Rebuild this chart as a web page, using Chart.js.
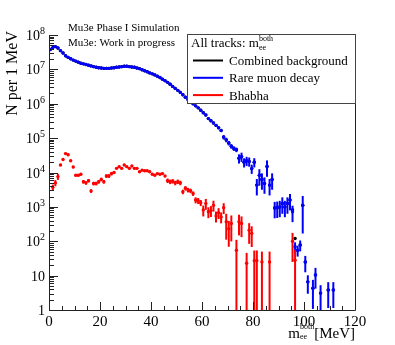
<!DOCTYPE html>
<html>
<head>
<meta charset="utf-8">
<script src="https://cdn.jsdelivr.net/npm/chart.js@4.4.1/dist/chart.umd.min.js"></script>
<style>
  html, body { margin: 0; padding: 0; background: #fff; }
  #wrap { width: 395px; height: 345px; }
</style>
</head>
<body>
<div id="wrap"><canvas id="massChart" width="395" height="345"></canvas></div>
<script>
// ==============================
// DATA (1 MeV bins, m_ee^both)
// ==============================
const binCentres = [
  0.5, 1.5, 2.5, 3.5, 4.5, 5.5, 6.5, 7.5, 8.5, 9.5,
  10.5, 11.5, 12.5, 13.5, 14.5, 15.5, 16.5, 17.5, 18.5, 19.5,
  20.5, 21.5, 22.5, 23.5, 24.5, 25.5, 26.5, 27.5, 28.5, 29.5,
  30.5, 31.5, 32.5, 33.5, 34.5, 35.5, 36.5, 37.5, 38.5, 39.5,
  40.5, 41.5, 42.5, 43.5, 44.5, 45.5, 46.5, 47.5, 48.5, 49.5,
  50.5, 51.5, 52.5, 53.5, 54.5, 55.5, 56.5, 57.5, 58.5, 59.5,
  60.5, 61.5, 62.5, 63.5, 64.5, 65.5, 66.5, 67.5, 68.5, 69.5,
  70.5, 71.5, 72.5, 73.5, 74.5, 75.5, 76.5, 77.5, 78.5, 79.5,
  80.5, 81.5, 82.5, 83.5, 84.5, 85.5, 86.5, 87.5, 88.5, 89.5,
  90.5, 91.5, 92.5, 93.5, 94.5, 95.5, 96.5, 97.5, 98.5, 99.5,
  100.5, 101.5, 102.5, 103.5, 104.5, 105.5, 106.5, 107.5, 108.5, 109.5,
  110.5, 111.5
];

// Rare muon decay
const rareCounts = [
  3.8e7, 4.3e7, 4.6e7, 4.2e7, 3.5e7, 3.0e7, 2.5e7, 2.24e7, 2.04e7, 1.86e7,
  1.74e7, 1.62e7, 1.51e7, 1.45e7, 1.38e7, 1.32e7, 1.26e7, 1.2e7, 1.15e7, 1.12e7,
  1.1e7, 1.07e7, 1.07e7, 1.07e7, 1.1e7, 1.12e7, 1.15e7, 1.17e7, 1.2e7, 1.23e7,
  1.23e7, 1.2e7, 1.17e7, 1.15e7, 1.1e7, 1.05e7, 9.8e6, 9.1e6, 8.5e6, 7.9e6,
  7.4e6, 6.9e6, 6.3e6, 5.8e6, 5.2e6, 4.7e6, 4.2e6, 3.7e6, 3.2e6, 2.8e6,
  2.45e6, 2.14e6, 1.82e6, 1.55e6, 1.32e6, 1.15e6, 1.0e6, 8.7e5, 7.6e5, 6.5e5,
  5.5e5, 4.7e5, 3.7e5, 3.2e5, 2.75e5, 2.35e5, 2.0e5, 1.66e5, 1.07e5, 8.9e4,
  7.2e4, 5.8e4, 5.0e4, 4.6e4, 2.6e4, 2.9e4, 2.0e4, 2.2e4, 2.1e4, 1.3e4,
  2.0e4, 4.3e3, 8.3e3, 6.3e3, 4.8e3, 1.5e4, 4.3e3, 6.3e3, 930, 950,
  1000, 1260, 1000, 1260, 1580, 720, 69, 55, 78, 1120,
  25, 6.6, null, 4.3, 10.5, null, 3.1, null, null, 3.8,
  null, 3.8
];
const rareRelErr = [
  0, 0, 0, 0, 0, 0, 0, 0, 0, 0,
  0, 0, 0, 0, 0, 0, 0, 0, 0, 0,
  0, 0, 0, 0, 0, 0, 0, 0, 0, 0,
  0, 0, 0, 0, 0, 0, 0, 0, 0, 0,
  0, 0, 0, 0, 0, 0, 0, 0, 0, 0,
  0, 0, 0, 0, 0, 0, 0, 0, 0, 0,
  0, 0, 0.05, 0.05, 0.05, 0.05, 0.05, 0.05, 0.15, 0.15,
  0.15, 0.15, 0.15, 0.15, 0.3, 0.3, 0.3, 0.3, 0.3, 0.3,
  0.3, 0.5, 0.5, 0.5, 0.5, 0.5, 0.5, 0.5, 0.5, 0.5,
  0.5, 0.5, 0.5, 0.5, 0.5, 0.5, 0.35, 0.35, 0.35, 0.85,
  0.5, 0.55, 0, 0.75, 0.6, 0, 0.7, 0, 0, 0.7,
  0, 0.7
];

// Bhabha
const bhabhaCounts = [
  null, 3700, 5000, 7600, 16600, 24000, 35500, 33000, 21900, 14500,
  8300, 8300, 8900, 5400, 5000, 5800, 2900, 4800, 4800, 5400,
  6300, 5400, 7900, 7900, 9300, 10000, 13200, 14800, 13200, 16600,
  14800, 13200, 15500, 13200, 13200, 10500, 11700, 11200, 11200, 10500,
  8900, 8300, 9300, 8900, 9300, 7900, 5800, 5400, 5600, 5000,
  5400, 5000, 2750, 3500, 3100, 2950, 2450, 1580, 1510, 1320,
  810, 1260, 720, 780, 1120, 540, 680, 510, 950, 370,
  230, 330, null, 55, 370, 330, null, 23, 210, 170,
  27, 27, null, 25, null, null, 25, null, null, null,
  null, null, null, null, null, 100, 28, null, null, null,
  null, null, null, null, null, null, null, null, null, null,
  null, null
];
const bhabhaRelErr = [
  0, 0.2, 0.2, 0.2, 0.08, 0.08, 0.08, 0.08, 0.08, 0.08,
  0.08, 0.08, 0.08, 0.12, 0.12, 0.12, 0.12, 0.12, 0.12, 0.12,
  0.12, 0.12, 0.12, 0.12, 0.12, 0.07, 0.07, 0.07, 0.07, 0.07,
  0.07, 0.07, 0.07, 0.07, 0.07, 0.07, 0.07, 0.07, 0.07, 0.07,
  0.07, 0.07, 0.07, 0.07, 0.07, 0.07, 0.15, 0.15, 0.15, 0.15,
  0.15, 0.15, 0.15, 0.15, 0.15, 0.15, 0.15, 0.2, 0.2, 0.2,
  0.35, 0.35, 0.35, 0.35, 0.35, 0.35, 0.35, 0.35, 0.35, 0.7,
  0.7, 0.7, 0, 1, 0.6, 0.6, 0, 1, 0.6, 0.6,
  1, 1, 0, 1, 0, 0, 1, 0, 0, 0,
  0, 0, 0, 0, 0, 0.75, 1, 0, 0, 0,
  0, 0, 0, 0, 0, 0, 0, 0, 0, 0,
  0, 0
];

// Combined background (almost everywhere hidden under the blue points)
const combinedCounts = [
  3.8e7, 4.3e7, 4.6e7, 4.2e7, 3.5e7, 3.0e7, 2.5e7, 2.24e7, 2.04e7, 1.86e7,
  1.74e7, 1.62e7, 1.51e7, 1.45e7, 1.38e7, 1.32e7, 1.26e7, 1.2e7, 1.15e7, 1.12e7,
  1.1e7, 1.07e7, 1.07e7, 1.07e7, 1.1e7, 1.12e7, 1.15e7, 1.17e7, 1.2e7, 1.23e7,
  1.23e7, 1.2e7, 1.17e7, 1.15e7, 1.1e7, 1.05e7, 9.8e6, 9.1e6, 8.5e6, 7.9e6,
  7.4e6, 6.9e6, 6.3e6, 5.8e6, 5.2e6, 4.7e6, 4.2e6, 3.7e6, 3.2e6, 2.8e6,
  2.45e6, 2.14e6, 1.82e6, 1.55e6, 1.32e6, 1.15e6, 1.0e6, 8.7e5, 7.6e5, 6.5e5,
  5.5e5, 4.7e5, 3.7e5, 3.2e5, 2.75e5, 2.35e5, 2.0e5, 1.66e5, 1.07e5, 8.9e4,
  7.2e4, 5.8e4, 5.0e4, 4.6e4, 2.6e4, 2.9e4, 2.0e4, 2.2e4, 2.1e4, 1.3e4,
  2.0e4, 4.3e3, 8.3e3, 6.3e3, 4.8e3, 1.5e4, 4.3e3, 6.3e3, 930, 950,
  1000, 1260, 1000, 1260, 1580, 830, 120, 55, 78, 1120,
  25, 6.6, null, 4.3, 10.5, null, 3.1, null, null, 3.8,
  null, 3.8
];

// Axis tick labels
const xTickValues = [0, 20, 40, 60, 80, 100, 120];
const yTickExponents = [0, 1, 2, 3, 4, 5, 6, 7, 8];

const SERIF = '"Liberation Serif", "DejaVu Serif", serif';

function toPoints(counts) {
  return binCentres.map((x, i) => ({ x, y: counts[i] }));
}

// ==============================
// TEXT HELPERS
// ==============================
function font(size) {
  return `${size}px ${SERIF}`;
}

// draws base + stacked sup/sub + tail, starting at x (left aligned)
function drawScript(ctx, x, y, parts) {
  const { base, sup, sub, tail, size, small, supDy, subDy } = parts;
  ctx.textAlign = "left";
  ctx.font = font(size);
  ctx.fillText(base, x, y);
  x += ctx.measureText(base).width;
  ctx.font = font(small);
  const wSup = ctx.measureText(sup).width;
  const wSub = ctx.measureText(sub).width;
  ctx.fillText(sup, x, y + supDy);
  ctx.fillText(sub, x, y + subDy);
  x += Math.max(wSup, wSub);
  if (tail) {
    ctx.font = font(size);
    ctx.fillText(tail, x, y);
  }
}

function scriptWidth(ctx, parts) {
  ctx.font = font(parts.size);
  let w = ctx.measureText(parts.base).width;
  if (parts.tail) w += ctx.measureText(parts.tail).width;
  ctx.font = font(parts.small);
  w += Math.max(ctx.measureText(parts.sup).width, ctx.measureText(parts.sub).width);
  return w;
}

/* =====================================================
   PLUGIN: ERROR BARS
===================================================== */
const errorBars = {
  id: "errorBars",
  beforeDatasetDraw(chart, args) {
    const ds = chart.data.datasets[args.index];
    if (!ds.relErr) return;
    const { ctx, chartArea } = chart;
    const xs = chart.scales.x;
    const ys = chart.scales.y;

    ctx.save();
    ctx.beginPath();
    ctx.rect(chartArea.left, chartArea.top, chartArea.right - chartArea.left, chartArea.bottom - chartArea.top);
    ctx.clip();
    ctx.strokeStyle = ds.backgroundColor;
    ctx.lineWidth = 2;

    ds.data.forEach((p, i) => {
      const e = ds.relErr[i];
      if (p.y == null || !e) return;
      const px = xs.getPixelForValue(p.x);
      const top = ys.getPixelForValue(p.y * (1 + e));
      const lowVal = p.y * (1 - e);
      const bottom = lowVal > 0.5 ? ys.getPixelForValue(lowVal) : chartArea.bottom;
      ctx.beginPath();
      ctx.moveTo(px, top);
      ctx.lineTo(px, bottom);
      ctx.stroke();
    });
    ctx.restore();
  },
};

/* =====================================================
   PLUGIN: ROOT STYLE FRAME, AXES, LEGEND
===================================================== */
const rootFrame = {
  id: "rootFrame",
  afterDraw(chart) {
    const { ctx, chartArea } = chart;
    const xs = chart.scales.x;
    const ys = chart.scales.y;
    const L = chartArea.left, R = chartArea.right, T = chartArea.top, B = chartArea.bottom;

    ctx.save();
    ctx.strokeStyle = "#222";
    ctx.fillStyle = "#000";
    ctx.lineWidth = 1;

    // axis lines + right border
    ctx.beginPath();
    ctx.moveTo(L + 0.5, T);
    ctx.lineTo(L + 0.5, B + 0.5);
    ctx.lineTo(R + 0.5, B + 0.5);
    ctx.lineTo(R + 0.5, T);
    ctx.stroke();

    // x ticks (major 20, minor 5)
    ctx.beginPath();
    for (let v = xTickValues[0]; v <= xTickValues[xTickValues.length - 1]; v += 5) {
      const px = Math.round(xs.getPixelForValue(v)) + 0.5;
      const len = xTickValues.includes(v) ? 8 : 4;
      ctx.moveTo(px, B);
      ctx.lineTo(px, B - len);
    }
    ctx.stroke();

    ctx.font = font(15);
    ctx.textAlign = "center";
    ctx.textBaseline = "alphabetic";
    xTickValues.forEach((v) => {
      ctx.fillText(String(v), xs.getPixelForValue(v), 326);
    });

    // y ticks (log, major decades + minor 2..9)
    ctx.beginPath();
    yTickExponents.forEach((k) => {
      const dec = Math.pow(10, k);
      const py = Math.round(ys.getPixelForValue(dec)) + 0.5;
      ctx.moveTo(L, py);
      ctx.lineTo(L + 9, py);
      if (k === yTickExponents[yTickExponents.length - 1]) return;
      for (let m = 2; m <= 9; m++) {
        const pm = Math.round(ys.getPixelForValue(dec * m)) + 0.5;
        ctx.moveTo(L, pm);
        ctx.lineTo(L + 5, pm);
      }
    });
    ctx.stroke();

    yTickExponents.forEach((k) => {
      const py = ys.getPixelForValue(Math.pow(10, k));
      const right = 45;
      if (k <= 1) {
        ctx.font = font(14);
        ctx.textAlign = "right";
        ctx.fillText(k === 0 ? "1" : "10", right, py + 5);
        return;
      }
      ctx.font = font(14);
      const wb = ctx.measureText("10").width;
      ctx.font = font(10);
      const ws = ctx.measureText(String(k)).width;
      ctx.textAlign = "left";
      ctx.font = font(14);
      ctx.fillText("10", right - wb - ws, py + 5);
      ctx.font = font(10);
      ctx.fillText(String(k), right - ws, py - 1);
    });

    // y title
    ctx.save();
    ctx.translate(17, 31);
    ctx.rotate(-Math.PI / 2);
    ctx.font = font(16);
    ctx.textAlign = "right";
    ctx.fillText("N per 1 MeV", 0, 0);
    ctx.restore();

    // x title
    const xTitle = { base: "m", sup: "both", sub: "ee", tail: "[MeV]", size: 15, small: 8, supDy: -9, subDy: 1 };
    drawScript(ctx, R - scriptWidth(ctx, xTitle), 338, xTitle);

    // header texts
    ctx.font = font(11);
    ctx.textAlign = "left";
    ctx.fillText("Mu3e Phase I Simulation", 68, 31);
    ctx.fillText("Mu3e: Work in progress", 68, 46);

    // legend box
    const lx = 187, ly = 34, lw = R - 187, lh = 69;
    ctx.fillStyle = "#fff";
    ctx.fillRect(lx, ly, lw, lh);
    ctx.strokeStyle = "#444";
    ctx.strokeRect(lx + 0.5, ly + 0.5, lw, lh);
    ctx.fillStyle = "#000";
    drawScript(ctx, 191, 47, { base: "All tracks: m", sup: "both", sub: "ee", size: 13, small: 8, supDy: -6, subDy: 3 });

    const entries = chart.data.datasets.slice().reverse();
    entries.forEach((ds, i) => {
      const ey = 60.5 + i * 17.3;
      ctx.strokeStyle = ds.backgroundColor;
      ctx.lineWidth = 2;
      ctx.beginPath();
      ctx.moveTo(193, ey);
      ctx.lineTo(223, ey);
      ctx.stroke();
      ctx.fillStyle = "#000";
      ctx.font = font(13);
      ctx.textAlign = "left";
      ctx.fillText(ds.label, 229, ey + 4.5);
    });

    ctx.restore();
  },
};

// ==============================
// CHART
// ==============================
const pointStyle = { pointStyle: "circle", pointRadius: 1.7, pointBorderWidth: 0, showLine: false };

new Chart(document.getElementById("massChart"), {
  type: "scatter",
  data: {
    datasets: [
      {
        label: "Bhabha",
        data: toPoints(bhabhaCounts),
        relErr: bhabhaRelErr,
        backgroundColor: "#ff0000",
        borderColor: "#ff0000",
        order: 1,
        ...pointStyle,
      },
      {
        label: "Rare muon decay",
        data: toPoints(rareCounts),
        relErr: rareRelErr,
        backgroundColor: "#0000ff",
        borderColor: "#0000ff",
        order: 2,
        ...pointStyle,
      },
      {
        label: "Combined background",
        data: toPoints(combinedCounts),
        backgroundColor: "#000000",
        borderColor: "#000000",
        order: 3,
        ...pointStyle,
      },
    ],
  },
  options: {
    responsive: false,
    animation: false,
    events: [],
    devicePixelRatio: 1,
    layout: { padding: { left: 49, top: 35, right: 40, bottom: 35 } },
    scales: {
      x: { type: "linear", min: 0, max: 120, display: false },
      y: { type: "logarithmic", min: 1, max: 1e8, display: false },
    },
    plugins: {
      legend: { display: false },
      tooltip: { enabled: false },
    },
  },
  plugins: [errorBars, rootFrame],
});
</script>
</body>
</html>
